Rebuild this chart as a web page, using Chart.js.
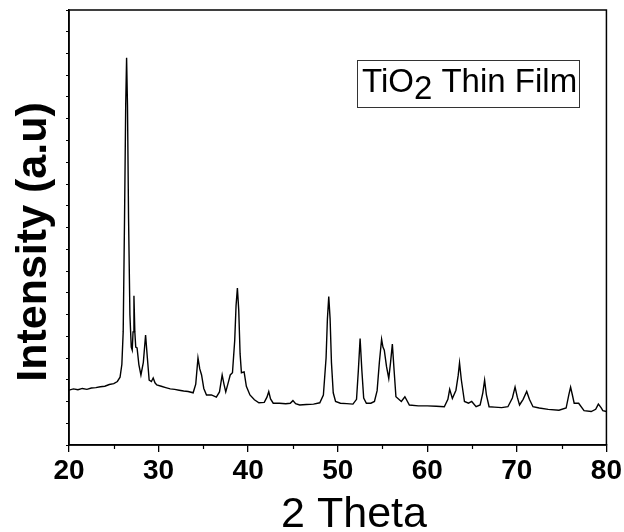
<!DOCTYPE html>
<html>
<head>
<meta charset="utf-8">
<script src="https://cdn.jsdelivr.net/npm/chart.js@4"></script>
<style>
  html, body { margin: 0; padding: 0; background: #fff; }
</style>
</head>
<body>
<canvas id="xrd" width="624" height="532"></canvas>
<script>
// XRD pattern of the TiO2 film (intensity in arbitrary units, 0-100)
const twoTheta = [
  20, 20.5, 21, 21.5, 22, 22.5, 23, 23.5, 24, 24.5, 25, 25.4, 25.7, 25.9, 26.05, 26.2, 26.33, 26.43, 26.53, 26.65,
  26.8, 26.95, 27.06, 27.15, 27.25, 27.35, 27.45, 27.6, 27.8, 28.03, 28.3, 28.55, 28.75, 28.95, 29.2, 29.4, 29.6, 29.8,
  30.3, 30.8, 31.3, 31.8, 32.3, 32.8, 33.3, 33.86, 34.15, 34.4, 34.6, 34.8, 35.05, 35.35, 35.9, 36.45, 36.8, 37.1,
  37.3, 37.5, 37.8, 38.0, 38.25, 38.5, 38.65, 38.8, 38.95, 39.1, 39.25, 39.55, 39.8, 40.2, 40.7, 41.2, 41.8, 42.1,
  42.3, 42.5, 42.8, 43.5, 44.2, 44.7, 45.0, 45.3, 45.75, 46.5, 47.3, 48.0, 48.4, 48.7, 48.85, 49.0, 49.15, 49.3,
  49.5, 49.76, 50.3, 51.0, 51.7, 52.1, 52.3, 52.5, 52.7, 52.9, 53.2, 53.7, 54.1, 54.4, 54.65, 54.9, 55.05, 55.2,
  55.45, 55.7, 55.9, 56.1, 56.3, 56.5, 57.1, 57.5, 58.0, 59.0, 60.0, 61.0, 61.9, 62.3, 62.5, 62.8, 63.2, 63.45,
  63.6, 63.8, 64.15, 64.6, 64.96, 65.45, 65.9, 66.2, 66.4, 66.6, 66.9, 67.5, 68.3, 69.0, 69.5, 69.8, 70.05, 70.3,
  70.7, 71.1, 71.4, 71.8, 72.5, 73.5, 74.7, 75.5, 75.8, 76.0, 76.2, 76.4, 76.9, 77.5, 78.3, 78.8, 79.1, 79.4, 79.6, 80.0
];
const intensity = [
  12.6, 12.9, 12.7, 13.0, 12.8, 13.1, 13.2, 13.4, 13.5, 13.9, 14.1, 14.6, 15.6, 18.5, 26, 52, 78, 89, 78, 52,
  30, 22.5, 21.8, 26, 34.3, 26, 22.5, 22.3, 18.5, 16.1, 19, 25.3, 20, 14.9, 14.6, 15.4, 14.3, 13.8,
  13.5, 13.2, 12.9, 12.8, 12.6, 12.4, 12.3, 12.0, 14, 20.0, 17.5, 16.1, 13, 11.5, 11.5, 11.0, 12.2, 16.1,
  14, 12.2, 14.5, 16.1, 16.6, 24, 32, 36.1, 31, 21, 16.6, 16.8, 13.5, 11.5, 10.4, 9.7, 9.8, 11,
  12.3, 10.6, 9.6, 9.6, 9.5, 9.6, 10.2, 9.5, 9.2, 9.3, 9.4, 9.7, 11.5, 20, 29, 34.1, 29, 19,
  12, 10.0, 9.6, 9.5, 9.4, 10.5, 17, 24.5, 17, 10.8, 9.6, 9.6, 10.0, 12.5, 19, 24.3, 22.5, 21.8,
  18, 15.3, 19, 23.2, 17, 11.1, 10.0, 11.1, 9.2, 9.0, 9.0, 8.9, 8.8, 10.5, 12.8, 10.7, 12.6, 16,
  18.9, 15, 10.0, 9.6, 10.0, 8.8, 9.2, 12, 14.9, 11.5, 8.8, 8.7, 8.6, 8.8, 10.8, 13.3, 11, 9.2,
  10.5, 12.3, 10.5, 8.8, 8.5, 8.2, 8.0, 8.5, 11.5, 13.3, 11.5, 9.6, 9.6, 7.9, 7.7, 8.2, 9.4, 8.6, 7.9, 7.7
];
const majorTicks = [20, 30, 40, 50, 60, 70, 80];
const minorTicks = [25, 35, 45, 55, 65, 75];
const xTitle = '2 Theta';
const yTitle = 'Intensity (a.u)';
const legendParts = ['TiO', '2', ' Thin Film'];

const FONT = "'Liberation Sans', Arial, sans-serif";

// frame, minor ticks, axis titles and the label box
const decor = {
  id: 'decor',
  afterDraw(chart) {
    const { ctx, chartArea: a, scales: { x } } = chart;
    ctx.save();
    ctx.strokeStyle = '#000';
    ctx.lineWidth = 1.5;
    ctx.strokeRect(a.left, a.top, a.right - a.left, a.bottom - a.top);

    ctx.lineWidth = 1.2;
    ctx.beginPath();
    minorTicks.forEach(v => {
      const px = Math.round(x.getPixelForValue(v)) + 0.5;
      ctx.moveTo(px, a.bottom);
      ctx.lineTo(px, a.bottom + 4);
    });
    ctx.stroke();

    ctx.fillStyle = '#000';
    ctx.textAlign = 'center';
    ctx.textBaseline = 'alphabetic';
    ctx.font = '43px ' + FONT;
    ctx.fillText(xTitle, 354, 527);

    ctx.save();
    ctx.translate(46, 242);
    ctx.rotate(-Math.PI / 2);
    ctx.font = 'bold 43px ' + FONT;
    ctx.fillText(yTitle, 0, 0);
    ctx.restore();

    // label box
    ctx.lineWidth = 1;
    ctx.strokeStyle = '#333';
    ctx.strokeRect(357.5, 60.5, 222, 47);
    ctx.textAlign = 'left';
    ctx.font = '33px ' + FONT;
    let tx = 362;
    ctx.fillText(legendParts[0], tx, 92);
    tx += ctx.measureText(legendParts[0]).width;
    ctx.fillText(legendParts[1], tx, 99);
    tx += ctx.measureText(legendParts[1]).width;
    ctx.fillText(legendParts[2], tx, 92);
    ctx.restore();
  }
};

new Chart(document.getElementById('xrd'), {
  type: 'line',
  data: {
    datasets: [{
      label: 'TiO2 Thin Film',
      data: twoTheta.map((t, i) => ({ x: t, y: intensity[i] })),
      borderColor: '#000',
      borderWidth: 1.4,
      pointRadius: 0,
      tension: 0,
      fill: false
    }]
  },
  options: {
    responsive: false,
    devicePixelRatio: 1,
    animation: false,
    layout: { padding: { top: 10, right: 17, left: 0, bottom: 0 } },
    plugins: { legend: { display: false }, tooltip: { enabled: false } },
    scales: {
      x: {
        type: 'linear',
        min: 20,
        max: 80,
        afterBuildTicks: s => { s.ticks = majorTicks.map(v => ({ value: v })); },
        afterFit: s => { s.height = 87; },
        ticks: {
          color: '#000',
          font: { family: FONT, size: 28, weight: 'bold' },
          padding: 2,
          maxRotation: 0,
          autoSkip: false
        },
        grid: { drawOnChartArea: false, tickLength: 7, color: '#000', lineWidth: 1.3 },
        border: { color: '#000', width: 1.5 }
      },
      y: {
        min: 0,
        max: 100,
        afterFit: s => { s.width = 69; },
        ticks: { display: false, stepSize: 5 },
        grid: { drawOnChartArea: false, tickLength: 3, color: '#000', lineWidth: 1 },
        border: { color: '#000', width: 1.5 }
      }
    }
  },
  plugins: [decor]
});
</script>
</body>
</html>
